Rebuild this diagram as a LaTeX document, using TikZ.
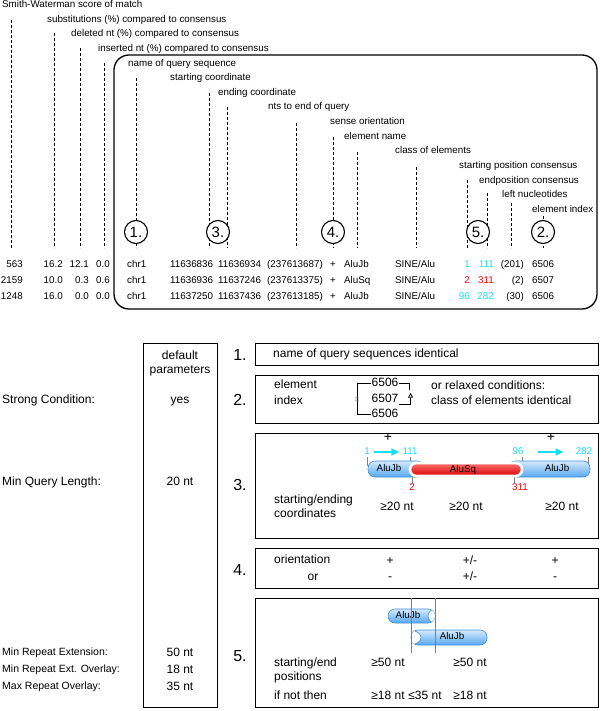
\documentclass[tikz,border=0pt]{standalone}
\usepackage{fontspec}
\setmainfont{Liberation Sans}
\usetikzlibrary{arrows.meta,positioning}

\definecolor{cons}{RGB}{20,222,248}
\definecolor{aluedge}{RGB}{62,142,214}
\definecolor{alutop}{RGB}{214,234,252}
\definecolor{alubot}{RGB}{86,168,240}
\definecolor{guideline}{RGB}{140,120,120}

\begin{document}
\begin{tikzpicture}
    [
      x=1pt, y=-1pt,
      note/.style={font=\fontsize{9.8}{11}\selectfont, inner sep=0pt, text height=7pt, text depth=2pt},
      body/.style={font=\fontsize{12}{14}\selectfont, inner sep=0pt, text height=8.6pt, text depth=2.4pt},
      key/.style={font=\fontsize{10.5}{12}\selectfont, inner sep=0pt, anchor=west},
      lead/.style={dash pattern=on 3pt off 2pt, line width=0.8pt},
      marker/.style={circle, draw, fill=white, line width=1.1pt, minimum size=23pt, inner sep=0pt, font=\fontsize{15}{15}\selectfont},
      panel/.style={draw, line width=1.1pt, anchor=north west, inner sep=0pt},
      secnum/.style={font=\fontsize{16}{16}\selectfont, inner sep=0pt},
      alubar/.style={top color=alutop, bottom color=alubot, draw=aluedge, line width=0.6pt, rounded corners=7pt},
      tick/.style={draw=gray, line width=0.5pt},
      flow/.style={draw=cons, line width=1.3pt, -{Triangle[length=8pt, width=7pt]}},
      guide/.style={draw=guideline, line width=0.6pt},
    ]

    \useasboundingbox (0,0) rectangle (600,711);

    % column headers and their leaders
    \foreach \i/\lx/\cx/\cy/\txt in {
        0/2/11/20/{Smith-Waterman score of match},
        1/47/54/33/{substitutions (\%) compared to consensus},
        2/71/80/48/{deleted nt (\%) compared to consensus},
        3/98/104/63/{inserted nt (\%) compared to consensus},
        4/128/136/78/{name of query sequence},
        5/170/209/93/{starting coordinate},
        6/218/227/107/{ending coordinate},
        7/268/296/123/{nts to end of query},
        8/330/333/137/{sense orientation},
        9/344/357/152/{element name},
        10/395/416/167/{class of elements},
        11/459/467/180/{starting position consensus},
        12/479/487/193/{endposition consensus},
        13/502/511/203/{left nucleotides},
        14/532/543/216/{element index}}{
      \node (lab\i) [note, anchor=west] at (\lx,5+14.64*\i) {\txt};
      \coordinate (top\i) at (\cx,\cy);
      \coordinate (bot\i) at (\cx,248);
      \draw [lead] (top\i) -- (bot\i);
    }

    \draw [line width=1.3pt, rounded corners=15pt] (114,55) rectangle (597,309);

    \node (m1) [marker] at (136,232) {1.};
    \node (m3) [marker] at (218,232) {3.};
    \node (m4) [marker] at (333,232) {4.};
    \node (m5) [marker] at (478,232) {5.};
    \node (m2) [marker] at (543,232) {2.};

    % the three hits
    \foreach \r/\yy/\sw/\sub/\del/\ins/\qs/\qe/\ql/\el/\ps/\pe/\pc/\lt/\ix in {
        1/265/563/16.2/12.1/0.0/11636836/11636934/237613687/AluJb/1/111/cons/201/6506,
        2/281/2159/10.0/0.3/0.6/11636936/11637246/237613375/AluSq/2/311/red/2/6507,
        3/297/1248/16.0/0.0/0.0/11637250/11637436/237613185/AluJb/96/282/cons/30/6506}{
      \node (sw\r) [note, anchor=east] at (23,\yy) {\sw};
      \node (sub\r) [note, anchor=east] at (63,\yy) {\sub};
      \node (del\r) [note, anchor=east] at (89,\yy) {\del};
      \node (ins\r) [note, anchor=east] at (110,\yy) {\ins};
      \node (chr\r) [note, anchor=west] at (127,\yy) {chr1};
      \node (qs\r) [note, anchor=west] at (170,\yy) {\qs};
      \node (qe\r) [note, anchor=west] at (218,\yy) {\qe};
      \node (ql\r) [note, anchor=west] at (267,\yy) {(\ql)};
      \node (sen\r) [note] at (333,\yy) {+};
      \node (nm\r) [note, anchor=west] at (344,\yy) {\el};
      \node (cl\r) [note, anchor=west] at (395,\yy) {SINE/Alu};
      \node (ps\r) [note, anchor=east, text=\pc] at (470,\yy) {\ps};
      \node (pe\r) [note, anchor=east, text=\pc] at (494,\yy) {\pe};
      \node (lt\r) [note, anchor=east] at (524,\yy) {(\lt)};
      \node (ix\r) [note, anchor=west] at (532,\yy) {\ix};
    }

    % parameter column
    \node (par) [panel, minimum width=74pt, minimum height=364pt] at (143,343) {};
    \node (pdef) [body, text height=, text depth=, align=center] at (180,363) {default\\parameters};
    \node (pyes) [body] at (180,400) {yes};
    \node (pqry) [body] at (180,482) {20 nt};
    \node (pext) [body] at (180,653) {50 nt};
    \node (povl) [body] at (180,670) {18 nt};
    \node (pmax) [body] at (180,687) {35 nt};

    \node (kstr) [body, anchor=west] at (2,400) {Strong Condition:};
    \node (kqry) [body, anchor=west] at (2,482) {Min Query Length:};
    \node (kext) [key] at (2,653) {Min Repeat Extension:};
    \node (kovl) [key] at (2,670) {Min Repeat Ext. Overlay:};
    \node (kmax) [key] at (2,687) {Max Repeat Overlay:};

    % conditions
    \node (c1) [panel, minimum width=343pt, minimum height=22pt] at (255,343) {};
    \node (c2) [panel, minimum width=343pt, minimum height=48pt] at (255,375) {};
    \node (c3) [panel, minimum width=343pt, minimum height=105pt] at (255,433) {};
    \node (c4) [panel, minimum width=343pt, minimum height=40pt] at (255,548) {};
    \node (c5) [panel, minimum width=343pt, minimum height=109pt] at (255,598) {};

    \node (n1) [secnum] at (240,355) {1.};
    \node (n2) [secnum] at (240,400) {2.};
    \node (n3) [secnum] at (240,485) {3.};
    \node (n4) [secnum] at (240,570) {4.};
    \node (n5) [secnum] at (240,656) {5.};

    \node (t1) [body, anchor=west] at (273,354) {name of query sequences identical};

    \node (t2a) [body, anchor=west] at (274,385) {element};
    \node (t2b) [body, anchor=west] at (274,401) {index};
    \node (i1) [body] at (385,383) {6506};
    \node (i2) [body] at (385,399) {6507};
    \node (i3) [body] at (385,414) {6506};
    \draw [line width=0.8pt] (i1.west) -- ++(-14,0) |- (i3.west);
    \node (eq) [font=\fontsize{9}{9}\selectfont, text=gray, inner sep=0pt] at (357,400) {=};
    \draw [line width=0.8pt] (i1.east) -- ++(11,0) -- ++(0,7);
    \draw [line width=0.8pt, -{Triangle[open, length=5pt, width=5pt]}] (i2.south east) -- ++(12,0) -- ++(0,-12);
    \node (t2c) [body, anchor=west] at (431,386) {or relaxed conditions:};
    \node (t2d) [body, anchor=west] at (431,401) {class of elements identical};

    \node (o3a) [body, font=\fontsize{14}{14}\selectfont] at (388,438) {+};
    \node (o3b) [body, font=\fontsize{14}{14}\selectfont] at (551,438) {+};
    \node (s3a) [note, text=cons] at (367,452) {1};
    \node (s3b) [note, text=cons] at (410,452) {111};
    \node (s3c) [note, text=cons] at (518,452) {96};
    \node (s3d) [note, text=cons] at (584,452) {282};
    \node (s3e) [note, text=red] at (412,488) {2};
    \node (s3f) [note, text=red] at (520,488) {311};
    \draw [flow] ([xshift=4pt]s3a.east) -- ([xshift=-3pt]s3b.west);
    \draw [flow] ([xshift=14pt]s3c.east) -- ([xshift=-12pt]s3d.west);
    \draw [tick] (s3a.south) -- ++(0,9);
    \draw [tick] (s3b.south) -- ++(0,8);
    \draw [tick] ([xshift=4pt]s3c.south) -- ++(0,8);
    \draw [tick] ([xshift=4pt]s3d.south) -- ++(0,13);
    \draw [tick] (s3e.north) -- ++(0,-8);
    \draw [tick] ([xshift=-6pt]s3f.north) -- ++(0,-8);
    \path [alubar] (368,461) rectangle (424,477);
    \path [alubar] (508,461) rectangle (590,477);
    \path [top color=red!55, middle color=red, bottom color=red!85!black, draw=white, line width=2.6pt, rounded corners=6.5pt] (410,463) rectangle (522,476);
    \node (b3a) [note] at (389,469) {AluJb};
    \node (b3b) [note] at (463,470) {AluSq};
    \node (b3c) [note] at (557,469) {AluJb};
    \node (t3a) [body, anchor=west] at (274,500) {starting/ending};
    \node (t3b) [body, anchor=west] at (274,514) {coordinates};
    \node (g3a) [body] at (397,507) {≥20 nt};
    \node (g3b) [body] at (466,507) {≥20 nt};
    \node (g3c) [body] at (562,507) {≥20 nt};

    \node (t4a) [body, anchor=west] at (274,560) {orientation};
    \node (t4b) [body] at (313,577) {or};
    \node (o4a) [body] at (390,561) {+};
    \node (o4b) [body] at (470,561) {+/-};
    \node (o4c) [body] at (555,561) {+};
    \node (o4d) [body] at (390,577) {-};
    \node (o4e) [body] at (470,577) {+/-};
    \node (o4f) [body] at (555,577) {-};

    \path [alubar] (388,609) rectangle (435,623);
    \begin{scope}
      \clip [rounded corners=7pt] (388,609) rectangle (435,623);
      \draw [fill=white, draw=aluedge, line width=0.6pt] (437,616) ellipse [x radius=9pt, y radius=7.6pt];
    \end{scope}
    \path [alubar] (411,630) rectangle (487,645);
    \begin{scope}
      \clip [rounded corners=7pt] (411,630) rectangle (487,645);
      \draw [fill=white, draw=aluedge, line width=0.6pt] (409,637.5) ellipse [x radius=12pt, y radius=7.6pt];
    \end{scope}
    \node (b5a) [note] at (408,616) {AluJb};
    \node (b5b) [note] at (452,637) {AluJb};
    \coordinate (v1a) at (411,598);
    \coordinate (v1b) at (411,653);
    \coordinate (v2a) at (435,598);
    \coordinate (v2b) at (435,653);
    \draw [guide] (v1a) -- (v1b);
    \draw [guide] (v2a) -- (v2b);
    \node (t5a) [body, anchor=west] at (274,663) {starting/end};
    \node (t5b) [body, anchor=west] at (274,677) {positions};
    \node (t5c) [body, anchor=west] at (274,696) {if not then};
    \node (g5a) [body] at (388,663) {≥50 nt};
    \node (g5b) [body] at (470,663) {≥50 nt};
    \node (g5c) [body] at (388,696) {≥18 nt};
    \node (g5d) [body] at (425,696) {≤35 nt};
    \node (g5e) [body] at (470,696) {≥18 nt};

  \end{tikzpicture}
\end{document}
